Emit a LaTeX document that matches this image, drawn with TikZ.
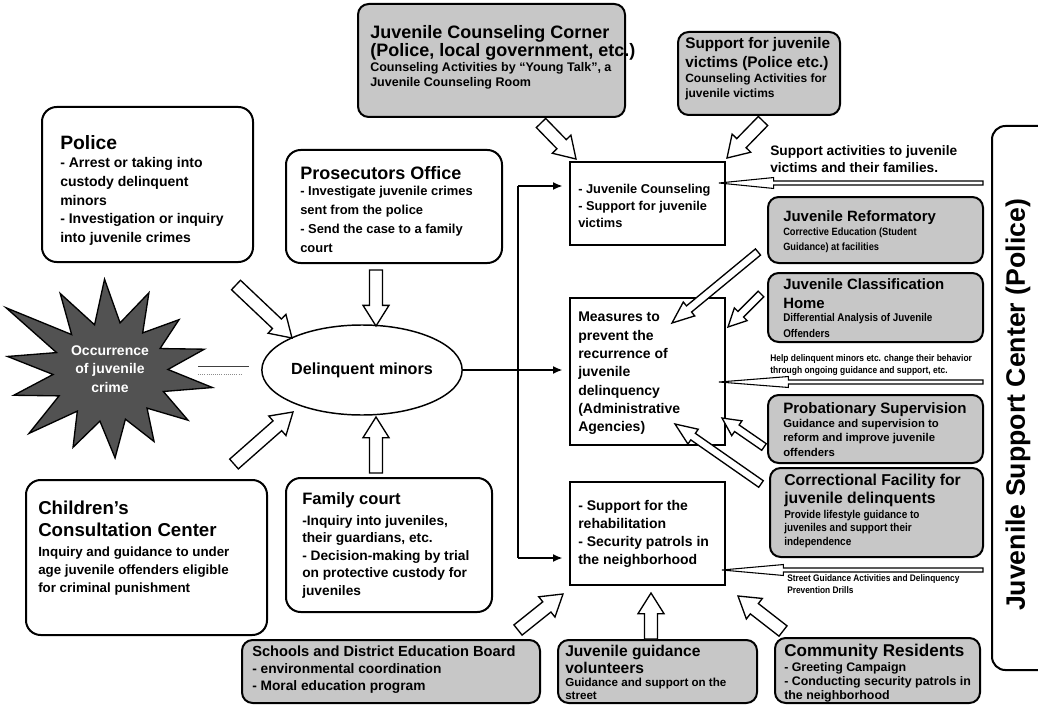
\documentclass[tikz,border=0pt]{standalone}
\usepackage{fontspec}
\setmainfont{Liberation Sans}
\newfontfamily\cnd[FakeStretch=0.88]{Liberation Sans}
\usetikzlibrary{calc,fit,shapes.geometric,arrows.meta}
\newcommand\fsz[2]{\fontsize{#1}{#2}\selectfont}
% hollow block arrow: [style]{half shaft width}{half head width}{head length}{from}{to}
\newcommand\hollowarrow[6][]{%
  \draw[harrow,#1] let \p1=(#5), \p2=(#6),
      \n1={atan2(\y2-\y1,\x2-\x1)}, \n2={veclen(\x2-\x1,\y2-\y1)} in
    ($(\p1)+(\n1+90:#2)$)
    -- ($(\p1)+(\n1:\n2-#4)+(\n1+90:#2)$)
    -- ($(\p1)+(\n1:\n2-#4)+(\n1+90:#3)$)
    -- (\p2)
    -- ($(\p1)+(\n1:\n2-#4)+(\n1-90:#3)$)
    -- ($(\p1)+(\n1:\n2-#4)+(\n1-90:#2)$)
    -- ($(\p1)+(\n1-90:#2)$) -- cycle;}
\tikzset{
  rbox/.style={draw, line width=1.5pt, rounded corners=11pt, fill=white, inner sep=0pt},
  gbox/.style={rbox, rounded corners=8pt, fill=black!22},
  sbox/.style={draw, line width=1.4pt, fill=white, inner sep=0pt},
  txt/.style={inner sep=0pt, anchor=north west, align=left},
  harrow/.style={draw, fill=white, line width=1pt, line join=miter},
  thinarrow/.style={line width=0.8pt},
  blk/.style={line width=1.1pt, -{Latex[length=7pt,width=6pt]}},
  link/.style={line width=1.1pt},
  starshape/.style={draw, line width=1pt, fill=black!68, line join=miter},
}
\begin{document}
\setlength{\lineskiplimit}{-50pt}
\begin{tikzpicture}[x=0.75pt,y=-0.75pt]
\useasboundingbox (0,0) rectangle (1038,706);
\fill[white] (0,0) rectangle (1038,706);

% ---------- boxes ----------
\node[gbox, fit={(358,4) (625,117)}] (corner) {};
\node[gbox, fit={(678,32) (840,115)}] (victims) {};
\node[rbox, fit={(42,107) (253,262)}] (police) {};
\node[rbox, fit={(286,150) (502,263)}] (pros) {};
\node[rbox, fit={(26,480) (267,635)}] (child) {};
\node[rbox, fit={(286,478) (492,612)}] (family) {};
\node[sbox, fit={(570,162) (725,245)}] (jc) {};
\node[sbox, fit={(570,298) (725,445)}] (meas) {};
\node[sbox, fit={(570,482) (725,585)}] (rb) {};
\node[gbox, fit={(768,197) (983,263)}] (reform) {};
\node[gbox, fit={(768,273) (983,342)}] (classif) {};
\node[gbox, fit={(768,395) (983,463)}] (prob) {};
\node[gbox, fit={(770,468) (983,557)}] (corr) {};
\node[gbox, fit={(242,640) (540,703)}] (school) {};
\node[gbox, fit={(558,640) (757,703)}] (vol) {};
\node[gbox, fit={(775,638) (980,703)}] (comm) {};

% Juvenile Support Center frame (open to the right edge)
\draw[line width=1.5pt, rounded corners=10pt] (1042,126) -- (992,126) -- (992,670) -- (1042,670);
\node[font=\bfseries\fsz{20}{20}, rotate=90, inner sep=0pt] (jscT) at (1018,405) {Juvenile Support Center (Police)};

% ---------- star ----------
\begin{scope}[shift={(110,372)}, yscale=0.86]
\draw[starshape] (10:104) -- (23:58) -- (35.7:96) -- (48.6:56) -- (61.4:92) -- (74.3:57)
  -- (87.1:100) -- (100:58) -- (112.9:95) -- (125.7:56) -- (138.6:108) -- (151.4:58)
  -- (164.3:100) -- (177.1:57) -- (190:104) -- (202.9:58) -- (215.7:128) -- (228.6:58)
  -- (241.4:104) -- (254.3:57) -- (267.1:108) -- (280:58) -- (292.9:100) -- (305.7:56)
  -- (318.6:92) -- (331.4:57) -- (344.3:98) -- (357.1:58) -- cycle;
\end{scope}
\node[font=\bfseries\fsz{10.5}{13.9}, text=white, align=center, inner sep=0pt] (crime) at (110,369) {Occurrence\\of juvenile\\crime};

% ---------- ellipse ----------
\node[ellipse, draw, line width=1.1pt, fill=white, minimum width=118.5pt, minimum height=67.5pt,
      inner sep=0pt, font=\bfseries\fsz{12.1}{14}] (dm) at (362,370) {Delinquent minors};

% ---------- box texts ----------
\node[txt, font=\bfseries\fsz{10.5}{14}] (policeT) at (60,135)
  {{\fsz{14.5}{14}Police}\\- Arrest or taking into\\custody delinquent\\minors\\- Investigation or inquiry\\into juvenile crimes};
\node[txt, font=\bfseries\fsz{9.7}{14.25}] (prosT) at (300,166)
  {{\fsz{13.5}{14}Prosecutors Office}\\[-2pt]- Investigate juvenile crimes\\sent from the police\\- Send the case to a family\\court};
\node[txt, font=\bfseries\fsz{13.5}{13.5}] (cornerT) at (370,25)
  {Juvenile Counseling Corner\\(Police, local government, etc.)\\[-2.25pt]{\fsz{9.4}{10}Counseling Activities by “Young Talk”, a}\\[-2.25pt]{\fsz{9.4}{10}Juvenile Counseling Room}};
\node[txt, font=\bfseries\fsz{11.5}{14.25}] (victimsT) at (685,37)
  {Support for juvenile\\victims (Police etc.)\\[-3.15pt]{\fsz{9}{10}Counseling Activities for}\\[-3pt]{\fsz{9}{10}juvenile victims}};
\node[txt, font=\bfseries\fsz{9.6}{12.75}] (jcT) at (578,183.5)
  {- Juvenile Counseling\\- Support for juvenile\\victims};
\node[txt, font=\bfseries\fsz{10.5}{13.75}] (measT) at (578,312)
  {Measures to\\prevent the\\recurrence of\\juvenile\\delinquency\\(Administrative\\Agencies)};
\node[txt, font=\bfseries\fsz{10.5}{13.5}] (rbT) at (578,500)
  {- Support for the\\rehabilitation\\- Security patrols in\\the neighborhood};
\node[txt, font=\bfseries\fsz{10}{13.5}] (childT) at (38,501)
  {{\fsz{14}{14}Children's}\\[3pt]{\fsz{14}{14}Consultation Center}\\[1.5pt]Inquiry and guidance to under\\age juvenile offenders eligible\\for criminal punishment};
\node[txt, font=\bfseries\fsz{10.3}{13.1}] (familyT) at (302,492)
  {{\fsz{12.4}{13}Family court}\\[2.6pt]-Inquiry into juveniles,\\their guardians, etc.\\- Decision-making by trial\\on protective custody for\\juveniles};
\node[txt, font=\bfseries\fsz{10.3}{12.75}] (schoolT) at (252,646)
  {{\fsz{11}{12}Schools and District Education Board}\\[-0.35pt]- environmental coordination\\- Moral education program};
\node[txt, font=\bfseries\fsz{11.7}{12.75}] (volT) at (565,644.5)
  {Juvenile guidance\\volunteers\\[-2.55pt]{\fsz{8.7}{10}Guidance and support on the}\\[-3pt]{\fsz{8.7}{10}street}};
\node[txt, font=\bfseries\fsz{9.3}{10.5}] (commT) at (784,644)
  {{\fsz{12.8}{14}Community Residents}\\[1pt]- Greeting Campaign\\- Conducting security patrols in\\the neighborhood};
\node[txt, font=\cnd\bfseries\fsz{7.9}{11.2}] (reformT) at (783,210)
  {{\rmfamily\bfseries\fsz{11.2}{12}Juvenile Reformatory}\\[-0.1pt]Corrective Education (Student\\Guidance) at facilities};
\node[txt, font=\cnd\bfseries\fsz{8.4}{14.25}] (classifT) at (783,278)
  {{\rmfamily\bfseries\fsz{11.2}{12}Juvenile Classification}\\{\rmfamily\bfseries\fsz{11.2}{12}Home}\\[-4.15pt]Differential Analysis of Juvenile\\[-2.25pt]Offenders};
\node[txt, font=\bfseries\fsz{8.5}{10.9}] (probT) at (783,402.6)
  {{\fsz{11.3}{12}Probationary Supervision}\\[-0.7pt]Guidance and supervision to\\reform and improve juvenile\\offenders};
\node[txt, font=\cnd\bfseries\fsz{8.5}{10}] (corrT) at (784,474)
  {{\rmfamily\bfseries\fsz{11.8}{13}Correctional Facility for}\\[3.5pt]{\rmfamily\bfseries\fsz{11.8}{13}juvenile delinquents}\\[1pt]Provide lifestyle guidance to\\juveniles and support their\\independence};

% ---------- labels on the feedback arrows ----------
\node[txt, font=\bfseries\fsz{10.3}{12.75}] (lab1) at (770,145) {Support activities to juvenile\\victims and their families.};
\node[txt, font=\cnd\bfseries\fsz{7.2}{9}] (lab2) at (770,354.5) {Help delinquent minors etc. change their behavior\\through ongoing guidance and support, etc.};
\node[txt, font=\cnd\bfseries\fsz{7.1}{9}] (lab3) at (787,574) {Street Guidance Activities and Delinquency\\Prevention Drills};

% ---------- connector end points ----------
\coordinate (a1s) at (541,123);  \coordinate (a1e) at (576,159);
\coordinate (a2s) at (763,121);  \coordinate (a2e) at (727,158);
\coordinate (a3s) at (236,285);  \coordinate (a3e) at (292,338);
\coordinate (a4s) at (376,270);  \coordinate (a4e) at (376,326);
\coordinate (a5s) at (234,464);  \coordinate (a5e) at (293,412);
\coordinate (a6s) at (376,473);  \coordinate (a6e) at (376,417);
\coordinate (a7s) at (758,252);  \coordinate (a7e) at (672,323);
\coordinate (a8s) at (761,294);  \coordinate (a8e) at (728,327);
\coordinate (a9s) at (764,447);  \coordinate (a9e) at (722,418);
\coordinate (a10s) at (761,484); \coordinate (a10e) at (675,424);
\coordinate (a11s) at (518,630); \coordinate (a11e) at (563,594);
\coordinate (a12s) at (651,639); \coordinate (a12e) at (651,593);
\coordinate (a13s) at (783,631); \coordinate (a13e) at (738,596);
\coordinate (t1s) at (983,183);  \coordinate (t1e) at (719,183);
\coordinate (t2s) at (983,382);  \coordinate (t2e) at (719,382);
\coordinate (t3s) at (983,570);  \coordinate (t3e) at (722,570);
\coordinate (bt) at (518,186);   \coordinate (bb) at (518,558);
\coordinate (d1) at (198,366);   \coordinate (d2) at (198,374);

% ---------- hollow arrows ----------
\hollowarrow{4.9pt}{9.75pt}{15.5pt}{a1s}{a1e}
\hollowarrow{4.9pt}{9.75pt}{15.5pt}{a2s}{a2e}
\hollowarrow{4.9pt}{9.75pt}{15.5pt}{a3s}{a3e}
\hollowarrow{4.9pt}{9.75pt}{15.5pt}{a4s}{a4e}
\hollowarrow{4.9pt}{9.75pt}{15.5pt}{a5s}{a5e}
\hollowarrow{4.9pt}{9.75pt}{15.5pt}{a6s}{a6e}
\hollowarrow{3pt}{6.75pt}{16.5pt}{a7s}{a7e}
\hollowarrow{3pt}{6.75pt}{13.5pt}{a8s}{a8e}
\hollowarrow{3pt}{6.75pt}{13.5pt}{a9s}{a9e}
\hollowarrow{3pt}{6.75pt}{16.5pt}{a10s}{a10e}
\hollowarrow{4.9pt}{9.75pt}{15.5pt}{a11s}{a11e}
\hollowarrow{4.9pt}{9.75pt}{15.5pt}{a12s}{a12e}
\hollowarrow{4.9pt}{9.75pt}{15.5pt}{a13s}{a13e}
\hollowarrow[thinarrow]{1.5pt}{4.1pt}{41pt}{t1s}{t1e}
\hollowarrow[thinarrow]{1.5pt}{4.1pt}{52pt}{t2s}{t2e}
\hollowarrow[thinarrow]{1.5pt}{4.1pt}{46pt}{t3s}{t3e}

% ---------- black flow lines ----------
\draw[link] (bt) -- (bb);
\draw[blk, shorten >=5pt] (bt) -- (bt -| jc.west);
\draw[blk, shorten >=5pt] (dm.east) -- (dm.east -| meas.west);
\draw[blk, shorten >=5pt] (bb) -- (bb -| rb.west);

% faint link from the star to the ellipse
\draw[line width=0.7pt, black!75] (d1) -- ($(d1 -| dm.west)+(-12,0)$);
\draw[line width=0.6pt, black!45, densely dotted] (d2) -- ($(d2 -| dm.west)+(-20,0)$);
\end{tikzpicture}
\end{document}
